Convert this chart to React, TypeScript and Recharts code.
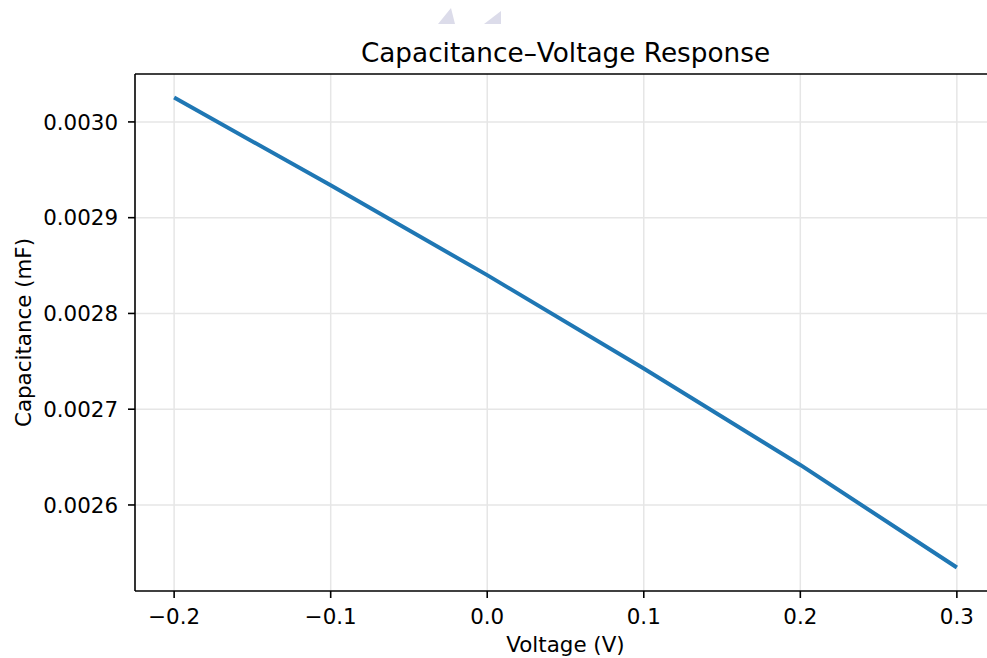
import React from "react";
import {
  LineChart,
  Line,
  XAxis,
  YAxis,
  CartesianGrid,
  ReferenceLine,
  Label,
} from "recharts";

// values
const voltages = [-0.2, -0.1, 0.0, 0.1, 0.2, 0.3];
const capacitance = [0.0030255, 0.0029338, 0.00284, 0.0027426, 0.0026418, 0.0025347];

const xTicks = [-0.2, -0.1, 0.0, 0.1, 0.2, 0.3];
const yTicks = [0.0026, 0.0027, 0.0028, 0.0029, 0.003];

const FONT = "DejaVu Sans, sans-serif";

const data = voltages.map((v, i) => ({ v, c: capacitance[i] }));

// matplotlib-like 5% margins
const xPad = (Math.max(...voltages) - Math.min(...voltages)) * 0.05;
const xMin = Math.min(...voltages) - xPad;
const xMax = Math.max(...voltages) + xPad;
const yPad = (Math.max(...capacitance) - Math.min(...capacitance)) * 0.05;
const yMin = Math.min(...capacitance) - yPad;
const yMax = Math.max(...capacitance) + yPad;

const fmtX = (v: number) => (v < 0 ? "\u2212" + Math.abs(v).toFixed(1) : v.toFixed(1));
const fmtY = (v: number) => v.toFixed(4);

export default function App() {
  return (
    <div
      style={{
        position: "fixed",
        left: 0,
        top: 0,
        width: 987,
        height: 658,
        overflow: "hidden",
        background: "#fff",
      }}
    >
      <svg
        width={987}
        height={80}
        style={{ position: "absolute", left: 0, top: 0 }}
      >
        {/* faint watermark shapes */}
        <polygon points="438,24 451,8 455,24" fill="#dcdcea" />
        <polygon points="484,24 501,11 501,24" fill="#dcdcea" />
        <text
          x={565.5}
          y={62}
          textAnchor="middle"
          fontSize={26.3}
          fontFamily={FONT}
          fill="#000"
        >
          Capacitance–Voltage Response
        </text>
      </svg>
      <div style={{ position: "absolute", left: 0, top: 0 }}>
        <LineChart
          width={1010}
          height={658}
          data={data}
          margin={{ top: 74, right: 14, left: 0, bottom: 0 }}
        >
          <CartesianGrid stroke="#e6e6e6" strokeWidth={1.5} horizontalValues={yTicks} verticalValues={xTicks} />
          <XAxis
            dataKey="v"
            type="number"
            domain={[xMin, xMax]}
            allowDataOverflow
            ticks={xTicks}
            tickFormatter={fmtX}
            height={67}
            tickSize={7}
            tickMargin={11}
            stroke="#000"
            strokeWidth={1.6}
            tick={{ fill: "#000", fontSize: 21.4, fontFamily: FONT }}
          >
            <Label
              value="Voltage (V)"
              position="center"
              dy={20}
              fill="#000"
              fontSize={21.4}
              fontFamily={FONT}
            />
          </XAxis>
          <YAxis
            dataKey="c"
            type="number"
            domain={[yMin, yMax]}
            allowDataOverflow
            ticks={yTicks}
            tickFormatter={fmtY}
            width={135}
            tickSize={7}
            tickMargin={10}
            stroke="#000"
            strokeWidth={1.6}
            tick={{ fill: "#000", fontSize: 21.4, fontFamily: FONT }}
          >
            <Label
              value="Capacitance (mF)"
              position="center"
              angle={-90}
              dx={-44}
              fill="#000"
              fontSize={21.4}
              fontFamily={FONT}
            />
          </YAxis>
          <ReferenceLine y={yMax} stroke="#000" strokeWidth={1.6} ifOverflow="extendDomain" />
          <ReferenceLine x={xMax} stroke="#000" strokeWidth={1.6} ifOverflow="extendDomain" />
          <Line
            dataKey="c"
            stroke="#1f77b4"
            strokeWidth={4}
            dot={false}
            type="linear"
            isAnimationActive={false}
          />
        </LineChart>
      </div>
    </div>
  );
}
